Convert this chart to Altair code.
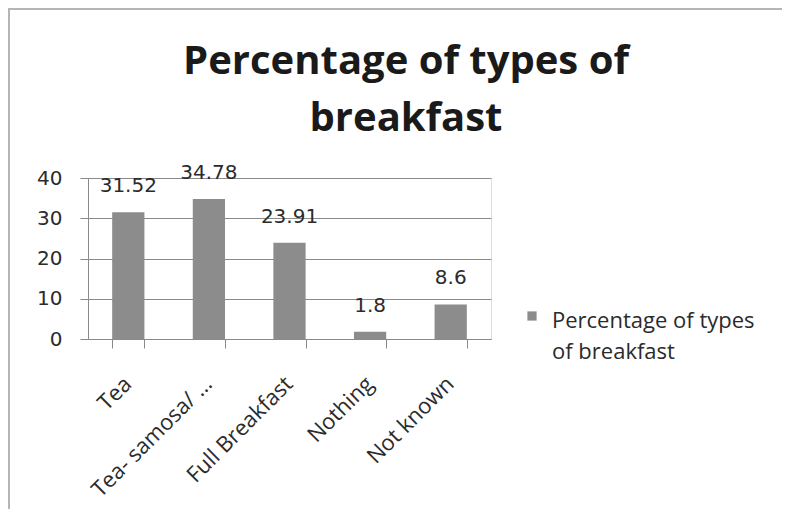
import altair as alt
import pandas as pd

categories = ["Tea", "Tea- samosa/ \u2026", "Full Breakfast", "Nothing", "Not known"]
values = [31.52, 34.78, 23.91, 1.8, 8.6]
series_name = "Percentage of types of breakfast"
title_lines = ["Percentage of types of", "breakfast"]
legend_lines = ["Percentage of types", "of breakfast"]

df = pd.DataFrame({"category": categories, "value": values, "series": series_name})

GRID = "#8a8a8a"
BAR = "#8c8c8c"
TXT = "#2b2b2b"

x_enc = alt.X(
    "category:N",
    sort=categories,
    title=None,
    scale=alt.Scale(paddingInner=0.6, paddingOuter=0.3),
    axis=alt.Axis(
        labelAngle=-45,
        labelAlign="right",
        labelBaseline="top",
        labelFont="Open Sans",
        labelFontSize=22,
        labelColor=TXT,
        labelPadding=25,
        labelOffset=-8,
        labelLimit=300,
        domainColor=GRID,
        tickColor=GRID,
        tickSize=9,
        tickBand="extent",
        grid=False,
    ),
)
y_enc = alt.Y(
    "value:Q",
    title=None,
    scale=alt.Scale(domain=[0, 40], nice=False),
    axis=alt.Axis(
        values=[0, 10, 20, 30, 40],
        labelFont="DejaVu Sans",
        labelFontSize=20,
        labelColor=TXT,
        labelPadding=18,
        domainColor=GRID,
        tickColor=GRID,
        tickSize=8,
        gridColor=GRID,
        gridWidth=1,
    ),
)

bars = alt.Chart(df).mark_bar(color=BAR).encode(
    x=x_enc,
    y=y_enc,
    color=alt.Color(
        "series:N",
        scale=alt.Scale(range=[BAR]),
        legend=alt.Legend(
            title=legend_lines,
            titleOrient="right",
            titleAnchor="start",
            titleBaseline="top",
            titleFont="Open Sans",
            titleFontSize=22,
            titleFontWeight="normal",
            titleColor=TXT,
            titleLineHeight=31,
            titlePadding=15,
            titleLimit=400,
            orient="none",
            legendX=439,
            legendY=133,
            symbolType="square",
            symbolSize=85,
            symbolStrokeWidth=0,
            labelExpr="''",
            labelOffset=0,
        ),
    ),
)

labels = alt.Chart(df).mark_text(
    font="DejaVu Sans", fontSize=20, color=TXT, baseline="bottom", dy=-16
).encode(
    x=alt.X("category:N", sort=categories),
    y="value:Q",
    text="value:Q",
)

title_df1 = pd.DataFrame({"t": [title_lines[0]]})
title_df2 = pd.DataFrame({"t": [title_lines[1]]})
title1 = alt.Chart(title_df1).mark_text(
    font="Open Sans", fontSize=40, fontWeight="bold", color="#1a1a1a",
    align="center", baseline="alphabetic",
).encode(x=alt.value(318), y=alt.value(-104), text="t:N")
title2 = alt.Chart(title_df2).mark_text(
    font="Open Sans", fontSize=40, fontWeight="bold", color="#1a1a1a",
    align="center", baseline="alphabetic",
).encode(x=alt.value(318), y=alt.value(-47), text="t:N")

frame_top = alt.Chart(df).mark_rule(color="#b5b5b5", strokeWidth=2).encode(
    x=alt.value(-81), x2=alt.value(701), y=alt.value(-169)
)
frame_left = alt.Chart(df).mark_rule(color="#b5b5b5", strokeWidth=2).encode(
    x=alt.value(-79), y=alt.value(-170), y2=alt.value(331)
)

chart = (
    alt.layer(frame_top, frame_left, title1, title2, bars, labels)
    .properties(
        width=403,
        height=161,
        autosize=alt.AutoSizeParams(type="none"),
        padding={"left": 80, "top": 170, "right": 291, "bottom": 170},
    )
    .configure_view(stroke=None)
    .configure(background="white")
)

chart.save("out.html", embed_options={"renderer": "svg", "actions": False})
